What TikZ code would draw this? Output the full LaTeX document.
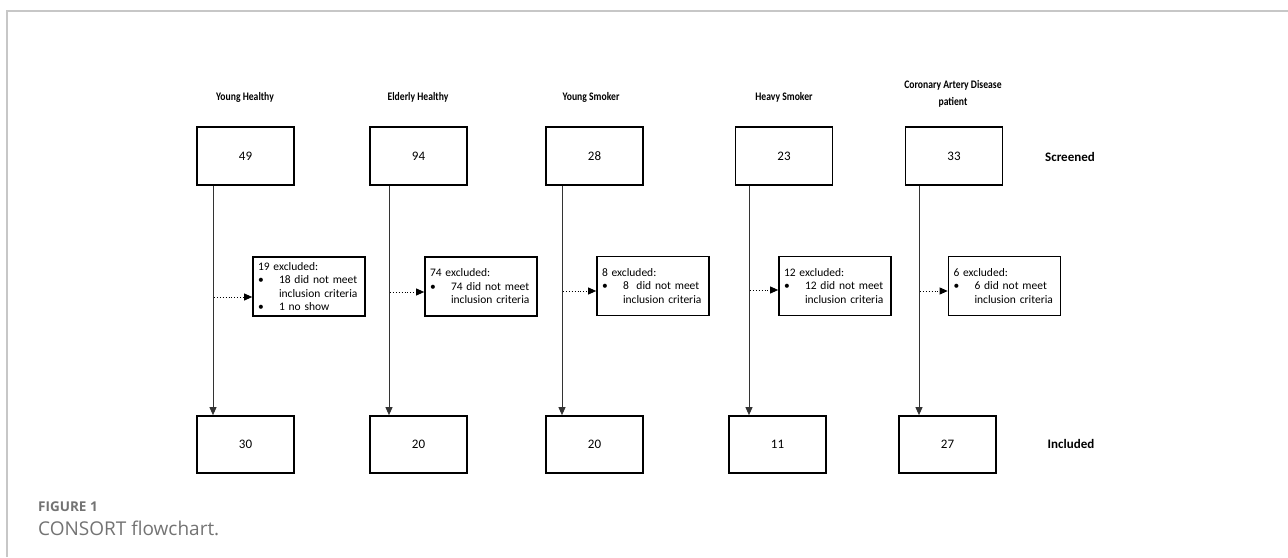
\documentclass[tikz,border=0pt]{standalone}
\usepackage{fontspec}
\setmainfont{Carlito}
\newfontfamily\capfont{Open Sans}
\usetikzlibrary{arrows.meta}
\begin{document}
\begin{tikzpicture}[x=1pt,y=-1pt,
  numbox/.style={draw=black,line width=1.7pt,minimum width=97pt,minimum height=58pt,inner sep=0pt,font=\fontsize{13}{15}\selectfont},
  exbox/.style={draw=black,line width=1.7pt,minimum width=112pt,minimum height=59pt,text width=102pt,inner xsep=5pt,inner ysep=0pt,align=left,font=\fontsize{11.5}{13.5}\selectfont},
  head/.style={font=\bfseries\fontsize{11.5}{17}\selectfont,align=center,xscale=0.84},
  rowlab/.style={font=\bfseries\fontsize{13}{15}\selectfont},
  flow/.style={draw=black!80,line width=0.9pt,-{Triangle[length=8pt,width=7pt]}},
  dots/.style={draw=black,line width=0.9pt,dotted,-{Triangle[length=8pt,width=7pt]}},
  frame/.style={draw=black!22,line width=1.5pt},
  caphead/.style={font=\capfont\bfseries\fontsize{13.5}{16}\selectfont,text=black!55,anchor=west,inner sep=0pt},
  captext/.style={font=\capfont\fontsize{19}{22}\selectfont,text=black!55,anchor=west,inner sep=0pt}
]
\useasboundingbox (0,0) rectangle (1288,557);
\draw[frame] (7,557) -- (7,11) -- (1288,11);

% headers
\node[head] (h1) at (245,97) {Young Healthy};
\node[head] (h2) at (418,97) {Elderly Healthy};
\node[head] (h3) at (591,97) {Young Smoker};
\node[head] (h4) at (784,97) {Heavy Smoker};
\node[head] (h5) at (953,93.5) {Coronary Artery Disease\\patient};

% screened boxes
\node[numbox] (s1) at (245.5,156) {49};
\node[numbox] (s2) at (418.5,156) {94};
\node[numbox] (s3) at (594.5,156) {28};
\node[numbox] (s4) at (784,156) {23};
\node[numbox] (s5) at (954,156) {33};
\node[rowlab] (lscr) at (1070,157) {Screened};

% included boxes
\node[numbox,minimum height=57pt] (i1) at (245.5,444.5) {30};
\node[numbox,minimum height=57pt] (i2) at (418.5,444.5) {20};
\node[numbox,minimum height=57pt] (i3) at (594.5,444.5) {20};
\node[numbox,minimum height=57pt] (i4) at (777.5,444.5) {11};
\node[numbox,minimum height=57pt] (i5) at (947.5,444.5) {27};
\node[rowlab] (linc) at (1071,444) {Included};

% exclusion boxes
\node[exbox] (e1) at (309,286.5) {19 excluded:\\
\makebox[21pt][l]{\textbullet}18 did not meet\\
\hspace*{21pt}inclusion criteria\\
\makebox[21pt][l]{\textbullet}1 no show};
\node[exbox] (e2) at (481,286.5) {74 excluded:\\
\makebox[21pt][l]{\textbullet}74 did not meet\\
\hspace*{21pt}inclusion criteria};
\node[exbox] (e3) at (653,286) {8 excluded:\\
\makebox[21pt][l]{\textbullet}8\ \ did not meet\\
\hspace*{21pt}inclusion criteria};
\node[exbox] (e4) at (835,286) {12 excluded:\\
\makebox[21pt][l]{\textbullet}12 did not meet\\
\hspace*{21pt}inclusion criteria};
\node[exbox] (e5) at (1004.5,286) {6 excluded:\\
\makebox[21pt][l]{\textbullet}6 did not meet\\
\hspace*{21pt}inclusion criteria};

% line x positions
\coordinate (x1) at (213,0);
\coordinate (x2) at (389,0);
\coordinate (x3) at (562,0);
\coordinate (x4) at (749,0);
\coordinate (x5) at (919,0);

\draw[flow] (s1.south -| x1) -- (i1.north -| x1);
\draw[flow] (s2.south -| x2) -- (i2.north -| x2);
\draw[flow] (s3.south -| x3) -- (i3.north -| x3);
\draw[flow] (s4.south -| x4) -- (i4.north -| x4);
\draw[flow] (s5.south -| x5) -- (i5.north -| x5);

% dotted branches
\coordinate (d1) at (214,297);
\coordinate (d2) at (390,292);
\coordinate (d3) at (563,291);
\coordinate (d4) at (750,290);
\coordinate (d5) at (920,291);
\draw[dots] (d1) -- (d1 -| e1.west);
\draw[dots] (d2) -- (d2 -| e2.west);
\draw[dots] (d3) -- (d3 -| e3.west);
\draw[dots] (d4) -- (d4 -| e4.west);
\draw[dots] (d5) -- (d5 -| e5.west);

% caption
\node[caphead] (cap1) at (38,507) {FIGURE 1};
\node[captext] (cap2) at (38,528) {CONSORT flowchart.};
\end{tikzpicture}
\end{document}
